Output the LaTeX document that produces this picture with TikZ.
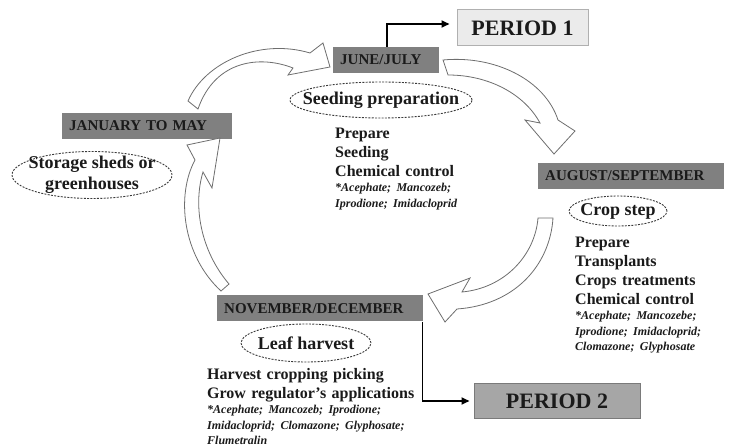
\documentclass[tikz,border=0pt]{standalone}
\usepackage{fontspec}
\setmainfont{Liberation Serif}
\usetikzlibrary{arrows.meta,shapes.geometric}
\definecolor{monthgray}{HTML}{808080}
\definecolor{txtdark}{HTML}{1A1A1A}
\definecolor{pone}{HTML}{EBEBEB}
\definecolor{poneline}{HTML}{B0B0B0}
\definecolor{ptwo}{HTML}{A6A6A6}
\definecolor{ptwoline}{HTML}{7A7A7A}
\definecolor{arrline}{HTML}{6E6E6E}
\definecolor{ellline}{HTML}{3A3A3A}
\tikzset{
  month/.style={fill=monthgray, text=txtdark, font=\fontsize{15}{18}\selectfont\bfseries,
    minimum height=26pt, inner xsep=7pt, inner ysep=0pt, anchor=west, align=left},
  stage/.style={ellipse, draw=ellline, dash pattern=on 2pt off 1.3pt, line width=0.9pt,
    text=txtdark, font=\fontsize{18}{21}\selectfont\bfseries, inner sep=-25pt, align=center},
  period/.style={text=txtdark, line width=1pt, font=\fontsize{22}{24}\selectfont\bfseries},
  listblock/.style={anchor=north west, inner sep=0pt, text width=220pt, align=left,
    text=txtdark, font=\fontsize{16}{19}\selectfont\bfseries},
  conn/.style={line width=1.8pt, black, -{Triangle[length=8pt,width=7pt]}},
  blockarrow/.style={draw=arrline, fill=white, line width=0.8pt, line join=miter},
}
\newcommand{\chem}[1]{{\fontsize{12}{15.5}\selectfont\itshape #1\par}}
\begin{document}
\begin{tikzpicture}[x=1pt,y=-1pt]
\useasboundingbox (0,0) rectangle (734,446);

% month boxes
\node[month, text width=156pt] (jan) at (62,126) {JANUARY TO MAY};
\node[month, text width=92pt] (jun) at (333,60) {JUNE/JULY};
\node[month, text width=172pt] (aug) at (538,176) {AUGUST/SEPTEMBER};
\node[month, text width=192pt] (nov) at (217,308.5) {NOVEMBER/DECEMBER};

% stage ellipses
\node[stage, minimum width=160pt, minimum height=47pt] (storage) at (92,175) {Storage sheds or\\greenhouses};
\node[stage, minimum width=182pt, minimum height=36pt] (seeding) at (381,100) {Seeding preparation};
\node[stage, minimum width=98pt, minimum height=30pt] (crop) at (618,211) {Crop step};
\node[stage, minimum width=130pt, minimum height=38pt] (leaf) at (306,343) {Leaf harvest};

% periods
\node[period, draw=poneline, fill=pone, minimum width=131pt, minimum height=36pt] (p1) at (522.5,28) {PERIOD 1};
\node[period, draw=ptwoline, fill=ptwo, minimum width=166pt, minimum height=34pt] (p2) at (557,401) {PERIOD 2};

% lists
\node[listblock] (seedlist) at (335,127.4) {Prepare\par Seeding\par Chemical control\par
  \chem{*Acephate; Mancozeb;}\chem{Iprodione; Imidacloprid}};
\node[listblock] (croplist) at (575,236.4) {Prepare\par Transplants\par Crops treatments\par Chemical control\par
  \chem{*Acephate; Mancozebe;}\chem{Iprodione; Imidacloprid;}\chem{Clomazone; Glyphosate}};
\node[listblock] (leaflist) at (207,368) {Harvest cropping picking\par Grow regulator's applications\par
  \chem{*Acephate; Mancozeb; Iprodione;}\chem{Imidacloprid; Clomazone; Glyphosate;}\chem{Flumetralin}};

% connectors to periods
\draw[conn, shorten >=7pt] ([xshift=1pt]jun.north) |- ([yshift=4pt]p1.west);
\draw[conn, shorten >=4pt] ([xshift=-1pt]nov.south east) |- (p2.west);

% block arrows of the cycle
\path[blockarrow] (188,101) .. controls (205,62) and (260,38) .. (310,53) -- (323,43) -- (330,67)
  -- (288,75) -- (293,68) .. controls (260,55) and (215,60) .. (198,109) -- cycle;
\path[blockarrow] (443,60) .. controls (495,55) and (545,80) .. (558,120) -- (575,131) -- (554,154)
  -- (525,120) -- (540,123) .. controls (525,95) and (490,75) .. (448,75) -- cycle;
\path[blockarrow] (553,218) .. controls (550,265) and (515,305) .. (457,309) -- (445,322) -- (428,294)
  -- (470,278) -- (462,292) .. controls (505,288) and (535,255) .. (538,218) -- cycle;
\path[blockarrow] (221,291) .. controls (182,255) and (176,195) .. (195,160) -- (187,145) -- (220,138)
  -- (212,188) -- (203,172) .. controls (193,205) and (200,250) .. (229,284) -- cycle;
\end{tikzpicture}
\end{document}
